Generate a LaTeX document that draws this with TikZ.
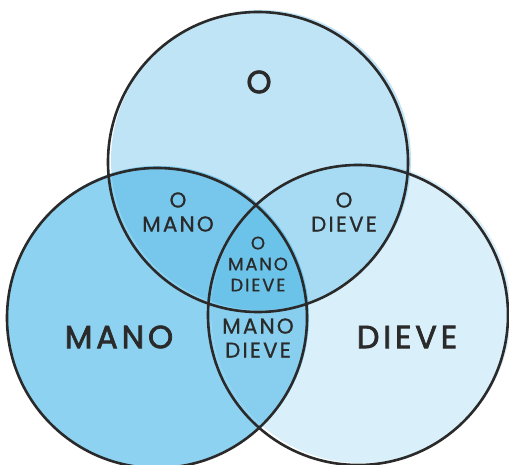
\documentclass[tikz,border=0pt]{standalone}
\usepackage{fontspec}
\setmainfont{Poppins}
\newfontfamily\sketchfont{Poppins}[LetterSpace=10,FakeBold=0.8]
\newfontfamily\sketchbold{Poppins}[LetterSpace=12,FakeBold=2.2]
\definecolor{ink}{HTML}{2A2A2A}
\definecolor{otop}{HTML}{BFE4F6}
\definecolor{mleft}{HTML}{8ED2F1}
\definecolor{dright}{HTML}{D9EFFA}
\definecolor{omano}{HTML}{77C7EC}
\definecolor{odieve}{HTML}{A7DBF3}
\definecolor{manodieve}{HTML}{87CEEF}
\definecolor{allthree}{HTML}{6CC3EA}

\begin{document}
\begin{tikzpicture}[x=1pt,y=-1pt,
ring/.style={draw=ink,line width=2.6pt},
biglabel/.style={text=ink,font=\sketchbold\fontsize{32}{34}\selectfont},
setlabel/.style={text=ink,align=center,font=\sketchfont\fontsize{21.5}{24}\selectfont},
midlabel/.style={text=ink,align=center,font=\sketchfont\fontsize{18}{21}\selectfont}]
\useasboundingbox (0,0) rectangle (509,465);
\clip (0,0) rectangle (509,465);
\fill[white] (0,0) rectangle (509,465);
% the fills sit a little off the outlines, like a hand sketch
\fill[otop] (261,160) circle[radius=150];
\fill[mleft] (158,317) circle[radius=151];
\fill[dright] (361,313) circle[radius=150];
\begin{scope}
\clip (261,160) circle[radius=150];
\fill[omano] (158,317) circle[radius=151];
\fill[odieve] (361,313) circle[radius=150];
\end{scope}
\begin{scope}
\clip (158,317) circle[radius=151];
\fill[manodieve] (361,313) circle[radius=150];
\clip (361,313) circle[radius=150];
\fill[allthree] (261,160) circle[radius=150];
\end{scope}
\draw[ring] (258,162) circle[radius=150];
\draw[ring] (157,318) circle[radius=150];
\draw[ring] (358,315) circle[radius=150];
\node[biglabel] (o) at (259,82) {O};
\node[biglabel] (mano) at (119,337) {MANO};
\node[biglabel] (dieve) at (407,337) {DIEVE};
\node[setlabel] (omanolbl) at (178,212) {O\\MANO};
\node[setlabel] (odievelbl) at (344,212) {O\\DIEVE};
\node[midlabel] (alllbl) at (258,264) {O\\MANO\\DIEVE};
\node[setlabel] (mdlbl) at (258,338) {MANO\\DIEVE};
\end{tikzpicture}
\end{document}
